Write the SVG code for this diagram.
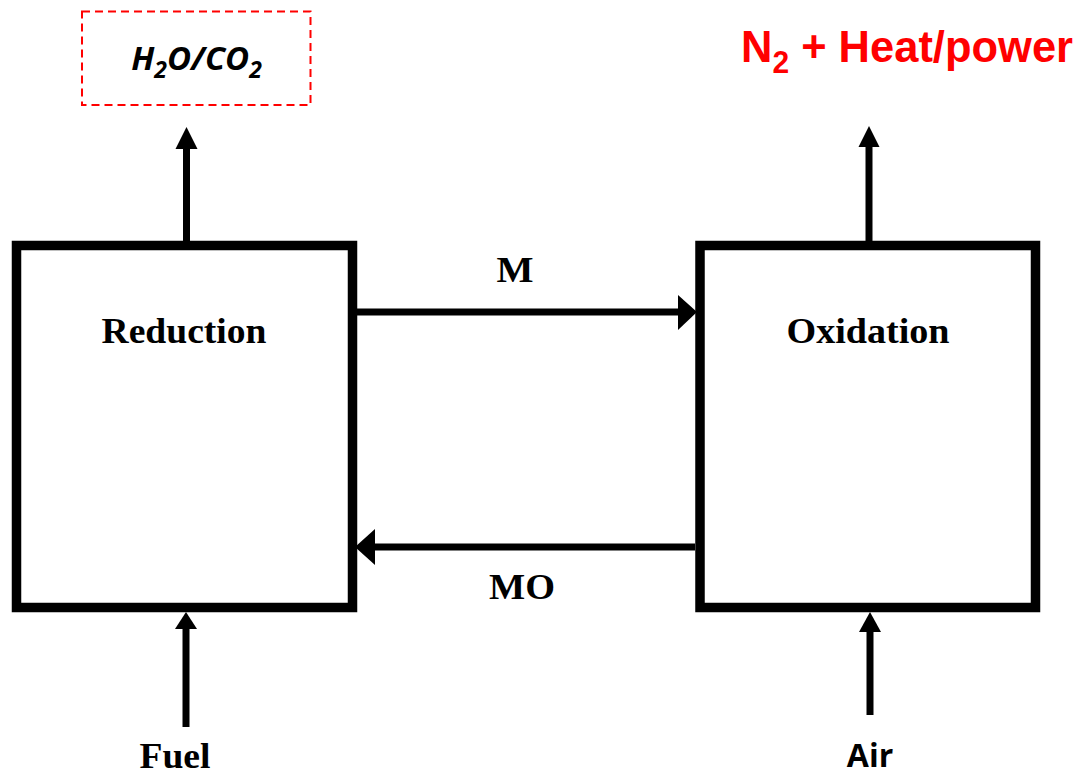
<svg xmlns="http://www.w3.org/2000/svg" width="1082" height="777" viewBox="0 0 1082 777">
  <style>
    .box { fill: none; stroke: #000; stroke-width: 9.5; }
    .line { fill: none; stroke: #000; stroke-width: 7; }
    .head { fill: #000; stroke: none; }
    .serif { font-family: "Liberation Serif", "Times New Roman", serif; font-weight: bold; font-size: 36px; fill: #000; }
    .sans { font-family: "Open Sans", "Liberation Sans", sans-serif; font-weight: bold; fill: #000; }
    .red { font-family: "Liberation Sans", Arial, sans-serif; font-weight: bold; fill: #f00; }
  </style>
  <rect width="1082" height="777" fill="#fff"/>

  <g id="products-left">
    <rect x="82" y="11.5" width="228.5" height="93.5" fill="none" stroke="#f00" stroke-width="2" stroke-dasharray="8 5"/>
    <text class="sans" x="196.5" y="70" font-size="33" font-style="italic" text-anchor="middle">H<tspan font-size="23" dy="8">2</tspan><tspan dy="-8">O/CO</tspan><tspan font-size="23" dy="8">2</tspan></text>
  </g>

  <g id="products-right">
    <text class="red" x="741" y="62" font-size="45" textLength="332" lengthAdjust="spacingAndGlyphs">N<tspan font-size="31" dy="11">2</tspan><tspan dy="-11"> + Heat/power</tspan></text>
  </g>

  <g id="reduction">
    <rect class="box" x="16.5" y="245.5" width="336" height="362"/>
    <text class="serif" x="184" y="343" text-anchor="middle" textLength="165" lengthAdjust="spacingAndGlyphs">Reduction</text>
  </g>

  <g id="oxidation">
    <rect class="box" x="700" y="245.5" width="335.5" height="362"/>
    <text class="serif" x="868" y="343" text-anchor="middle" textLength="163" lengthAdjust="spacingAndGlyphs">Oxidation</text>
  </g>

  <g id="fuel">
    <text class="serif" x="175" y="768" text-anchor="middle" textLength="71" lengthAdjust="spacingAndGlyphs">Fuel</text>
  </g>

  <g id="air">
    <text class="sans" x="870" y="767" font-size="32" text-anchor="middle">Air</text>
  </g>

  <g id="connectors">
    <!-- Reduction -> H2O/CO2 -->
    <line class="line" x1="186.5" y1="241" x2="186.5" y2="146"/>
    <polygon class="head" points="186.5,127 175.5,149 197.5,149"/>
    <!-- Oxidation -> N2 -->
    <line class="line" x1="869" y1="241" x2="869" y2="144"/>
    <polygon class="head" points="869,126 858.5,147 879.5,147"/>
    <!-- M -->
    <line class="line" x1="357" y1="312" x2="681" y2="312"/>
    <polygon class="head" points="697,312 678,295 678,330"/>
    <text class="serif" x="515" y="282" text-anchor="middle" textLength="37" lengthAdjust="spacingAndGlyphs">M</text>
    <!-- MO -->
    <line class="line" x1="695" y1="547" x2="372" y2="547"/>
    <polygon class="head" points="355,547 375,529 375,565"/>
    <text class="serif" x="522" y="599" text-anchor="middle" textLength="66" lengthAdjust="spacingAndGlyphs">MO</text>
    <!-- Fuel -->
    <line class="line" x1="186" y1="727" x2="186" y2="626"/>
    <polygon class="head" points="186,612 175,629 197,629"/>
    <!-- Air -->
    <line class="line" x1="870" y1="715" x2="870" y2="628"/>
    <polygon class="head" points="870,612 859,632 881,632"/>
  </g>
</svg>
